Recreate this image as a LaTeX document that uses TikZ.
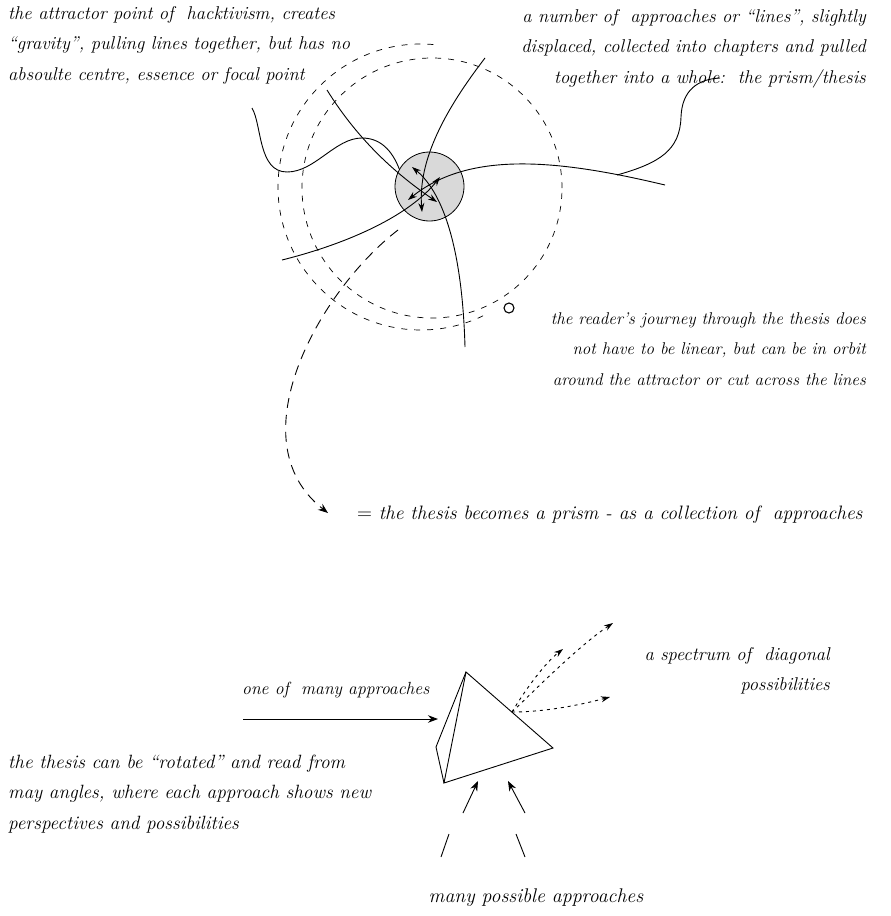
\documentclass[tikz,border=0pt]{standalone}
\usetikzlibrary{arrows.meta}
\begin{document}
\begin{tikzpicture}[x=1pt,y=-1pt,
  lbl/.style={font=\fontsize{#1}{30.5}\selectfont\itshape, inner sep=0pt},
  lbl/.default=18.5,
  ln/.style={line width=0.9pt},
  orbit/.style={line width=0.7pt, dash pattern=on 6pt off 7pt},
  path2/.style={line width=0.9pt, dash pattern=on 10pt off 7pt},
  spec/.style={line width=0.9pt, dash pattern=on 3pt off 4pt},
  tip/.style={-{Stealth[length=10pt,width=7.5pt]}},
  stip/.style={-{Stealth[length=9pt,width=6pt]}}
]
\useasboundingbox (0,0) rectangle (891,916);

% texts
\node[lbl, anchor=north west, align=left] (t1) at (8,6)
 {the attractor point of\ \ hacktivism, creates\\``gravity'', pulling lines together, but has no\\absoulte centre, essence or focal point};
\node[lbl, anchor=north east, align=right] (t2) at (866,9)
 {a number of\ \ approaches or ``lines'', slightly\\displaced, collected into chapters and pulled\\together into a whole:\ \ the prism/thesis};
\node[lbl=17, anchor=east, align=right] (t3) at (866,349)
 {the reader's journey through the thesis does\\not have to be linear, but can be in orbit\\around the attractor or cut across the lines};
\node[lbl=19.4, anchor=west] (t4) at (357,515)
 {$=$ the thesis becomes a prism - as a collection of\ \ approaches};
\node[lbl=17.6, anchor=west] (t5) at (242,690) {one of\ \ many approaches};
\node[lbl, anchor=east, align=right] (t6) at (830,671)
 {a spectrum of\ \ diagonal\\possibilities};
\node[lbl=19.2, anchor=west, align=left] (t7) at (8,794)
 {the thesis can be ``rotated'' and read from\\may angles, where each approach shows new\\perspectives and possibilities};
\node[lbl=19.8] (t8) at (536,898) {many possible approaches};

% orbits
\draw[orbit] (432,188) circle[radius=130pt];
\draw[orbit] (421,187) ++(85:143pt) arc[start angle=85, end angle=298, radius=143pt];

% attractor
\node[circle, draw, fill=black!15, line width=0.8pt, minimum size=69pt, inner sep=0pt] (att) at (429.5,186.5) {};
\node[circle, draw, line width=1.1pt, minimum size=10pt, inner sep=0pt] (reader) at (509,308) {};

% lines
\coordinate (s1a) at (327,90);   \coordinate (s1b) at (437,202);
\coordinate (s2a) at (465,347);  \coordinate (s2b) at (412,167);
\coordinate (s3a) at (485,58);   \coordinate (s3b) at (422,212);
\coordinate (s4a) at (282,260);  \coordinate (s4b) at (440,177);
\coordinate (s5a) at (665,185);  \coordinate (s5b) at (408,200);
\draw[ln, stip] (s1a) .. controls (355,135) and (390,170) .. (s1b);
\draw[ln, stip] (s2a) .. controls (462,240) and (440,190) .. (s2b);
\draw[ln, stip] (s3a) .. controls (445,110) and (418,160) .. (s3b);
\draw[ln, stip] (s4a) .. controls (350,243) and (410,215) .. (s4b);
\draw[ln, stip] (s5a) .. controls (560,160) and (470,150) .. (s5b);

% leaders
\coordinate (w1) at (252,108);
\draw[ln] (w1) .. controls (262,125) and (258,172) .. (287,172)
  .. controls (315,172) and (335,138) .. (362,138)
  .. controls (380,138) and (392,150) .. (att.150);
\coordinate (w2) at (617,175);
\coordinate (w3) at (720,78);
\draw[ln] (w2) .. controls (660,163) and (680,150) .. (681,117)
  .. controls (682,90) and (698,79) .. (w3);

% path to prism statement
\coordinate (d1) at (398,230);
\coordinate (d2) at (328,513);
\draw[path2, tip] (d1) .. controls (320,290) and (235,440) .. (d2);

% prism
\coordinate (pt) at (466,672);
\coordinate (pr) at (553,748);
\coordinate (pb) at (444,783);
\coordinate (pl) at (436,747);
\draw[ln, line join=miter] (pt) -- (pr) -- (pb) -- cycle;
\draw[ln] (pt) -- (pl) -- (pb);

\coordinate (in0) at (243,719);
\coordinate (in1) at (438,719);
\draw[ln, tip] (in0) -- (in1);

\coordinate (ex) at (512,712);
\coordinate (e1) at (563,649);
\coordinate (e2) at (613,623);
\coordinate (e3) at (610,697);
\draw[spec, stip] (ex) .. controls (525,690) and (545,663) .. (e1);
\draw[spec, stip] (ex) .. controls (540,685) and (580,645) .. (e2);
\draw[spec, stip] (ex) .. controls (545,712) and (580,705) .. (e3);

\coordinate (b1a) at (463,813); \coordinate (b1b) at (478,781);
\coordinate (b2a) at (525,813); \coordinate (b2b) at (508,781);
\draw[ln, tip] (b1a) -- (b1b);
\draw[ln, tip] (b2a) -- (b2b);
\coordinate (c1a) at (441,857); \coordinate (c1b) at (449,834);
\coordinate (c2a) at (525,857); \coordinate (c2b) at (516,834);
\draw[ln] (c1a) -- (c1b);
\draw[ln] (c2a) -- (c2b);
\end{tikzpicture}
\end{document}
